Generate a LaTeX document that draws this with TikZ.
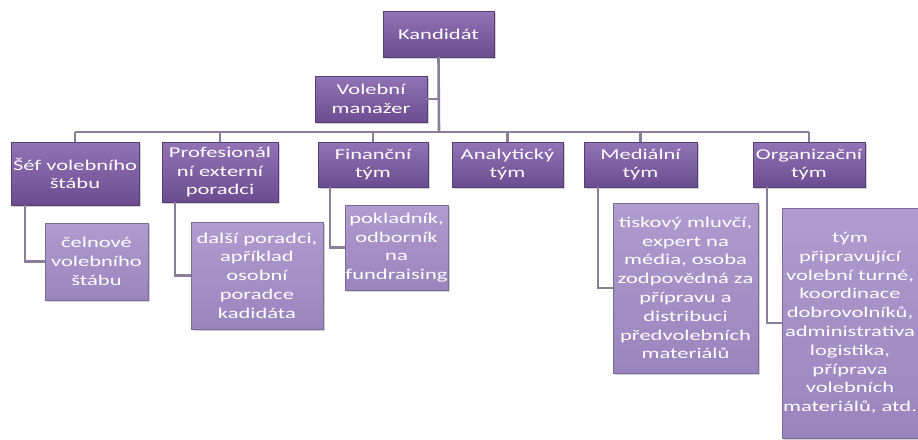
\documentclass[tikz,border=0pt]{standalone}
\usepackage{fontspec}
\setmainfont{Carlito}[FakeStretch=1.5]
\usetikzlibrary{shadows}
\definecolor{darkA}{HTML}{9273B6}
\definecolor{darkB}{HTML}{6B4C90}
\definecolor{liteA}{HTML}{B09CCF}
\definecolor{liteB}{HTML}{9A84BD}
\definecolor{conn}{HTML}{8A7F98}
\tikzset{
  base/.style={rectangle, inner sep=0pt, align=center, text=white,
    font=\fontsize{15}{18.8}\selectfont,
    drop shadow={shadow xshift=1.5pt, shadow yshift=-1.5pt, fill=black!35, opacity=0.5}},
  topbox/.style={base, top color=darkA, bottom color=darkB, draw=darkB!80!black, line width=0.4pt},
  subbox/.style={base, top color=liteA, bottom color=liteB, draw=liteB!80!black, line width=0.4pt},
  link/.style={draw=conn, line width=2.6pt}
}
\begin{document}
\begin{tikzpicture}[x=1pt,y=-1pt]
\useasboundingbox (0,0) rectangle (918,439);
\fill[white] (0,0) rectangle (918,439);
% connectors first (behind boxes)
\coordinate (busL) at (75,132);
\coordinate (busR) at (809,132);
\coordinate (busM) at (439,132);
% top level
\node[topbox, minimum width=111pt, minimum height=46pt] (kand) at (438.5,34) {Kandidát};
\node[topbox, minimum width=112pt, minimum height=46pt] (man) at (371,99) {Volební\\manažer};
% level 2
\node[topbox, minimum width=128pt, minimum height=63pt] (sef) at (75,173.5) {Šéf volebního\\štábu};
\node[topbox, minimum width=116pt, minimum height=60pt] (prof) at (220,172) {Profesionál\\ní externí\\poradci};
\node[topbox, minimum width=110pt, minimum height=45pt] (fin) at (373,164.5) {Finanční\\tým};
\node[topbox, minimum width=111pt, minimum height=45pt] (anal) at (507.5,164.5) {Analytický\\tým};
\node[topbox, minimum width=113pt, minimum height=45pt] (med) at (640.5,164.5) {Mediální\\tým};
\node[topbox, minimum width=112pt, minimum height=45pt] (org) at (809,164.5) {Organizační\\tým};
% level 3
\node[subbox, minimum width=103pt, minimum height=77pt] (cel) at (96.5,261.5) {čelnové\\volebního\\štábu};
\node[subbox, minimum width=132pt, minimum height=107pt] (dal) at (257,275.5) {další poradci,\\apříklad\\osobní\\poradce\\kadidáta};
\node[subbox, minimum width=103pt, minimum height=85pt] (pok) at (396.5,247.5) {pokladník,\\odborník\\na\\fundraising};
\node[subbox, minimum width=145pt, minimum height=170pt] (tis) at (685.5,288) {tiskový mluvčí,\\expert na\\média, osoba\\zodpovědná za\\přípravu a\\distribuci\\předvolebních\\materiálů};
\node[subbox, minimum width=136pt, minimum height=230pt] (tym) at (850,323) {tým\\připravující\\volební turné,\\koordinace\\dobrovolníků,\\administrativa\\logistika,\\příprava\\volebních\\materiálů, atd.};
% connectors
\begin{scope}[on background layer/.style={}]
\end{scope}
\path[link] (kand.south) -- (busM);
\path[link] (man.east) -- (man.east -| busM);
\path[link] (busL) -- (busR);
\foreach \n in {sef,prof,fin,anal,med,org}{
  \path[link] (\n.north |- busM) -- (\n.north);
}
\path[link] ([xshift=14pt]sef.south west) |- (cel.west);
\path[link] ([xshift=13pt]prof.south west) |- (dal.west);
\path[link] ([xshift=12pt]fin.south west) |- (pok.west);
\path[link] ([xshift=14pt]med.south west) |- (tis.west);
\path[link] ([xshift=14pt]org.south west) |- (tym.west);
\end{tikzpicture}
\end{document}
